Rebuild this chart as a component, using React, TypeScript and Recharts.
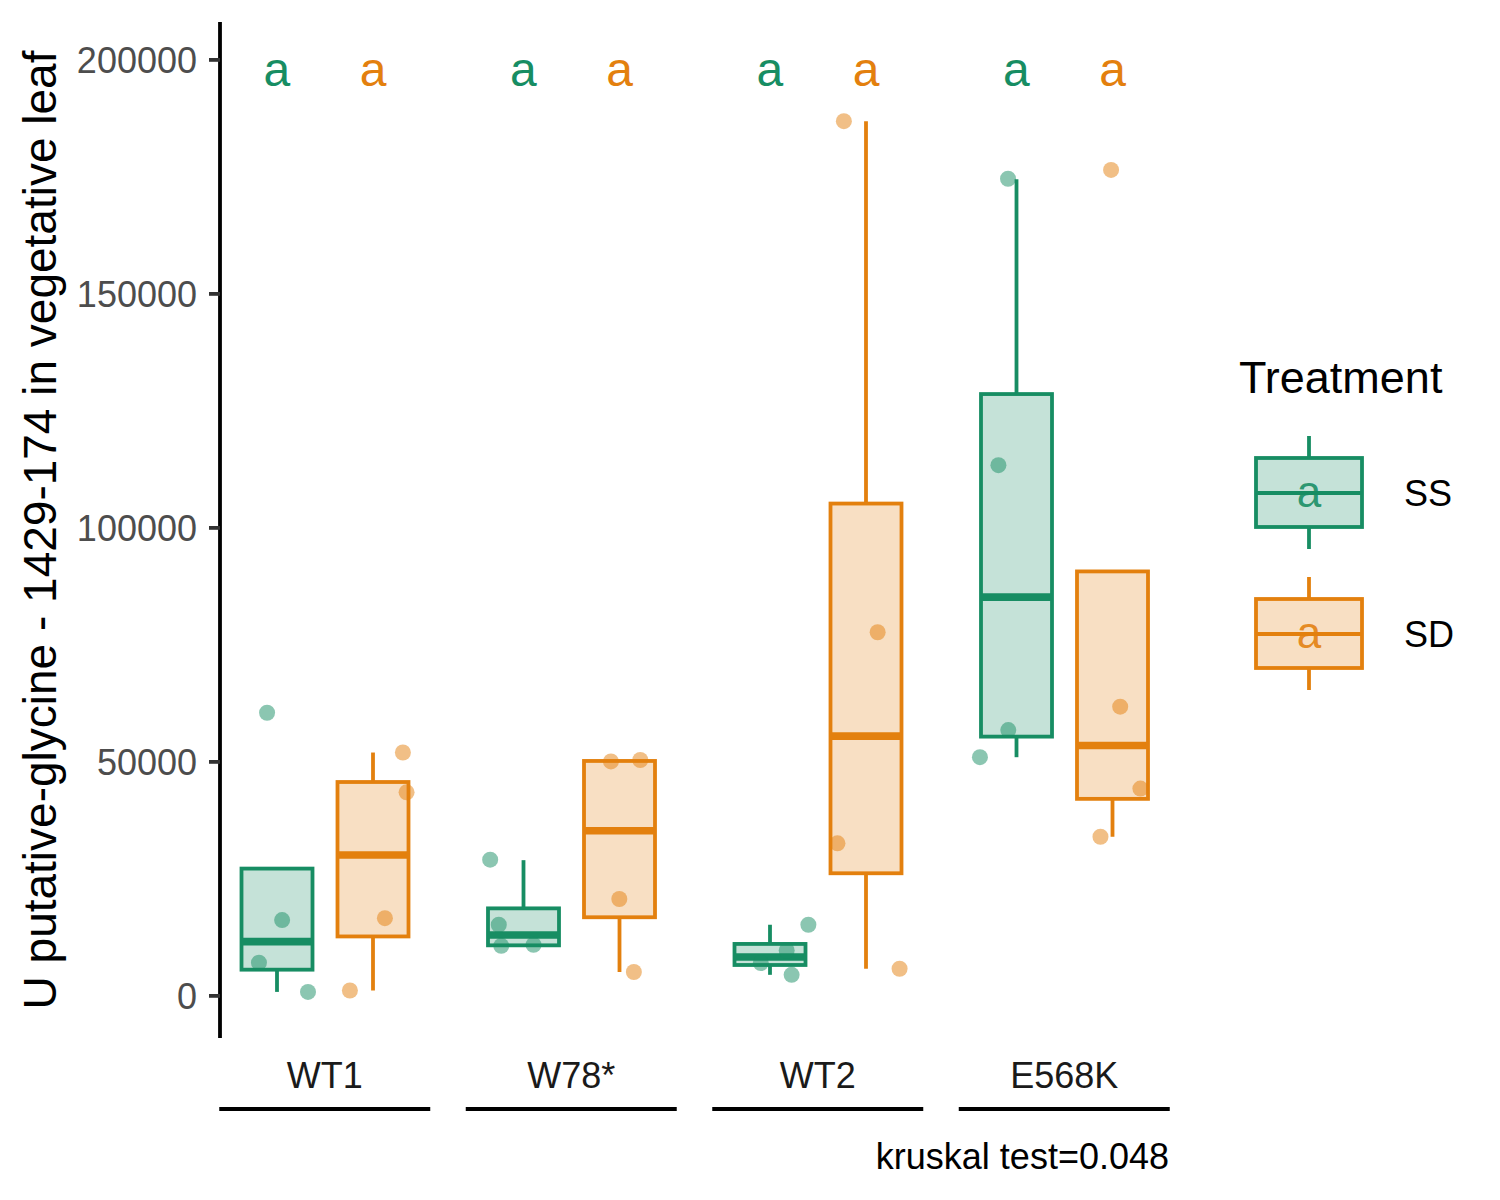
import { ComposedChart, Bar, Scatter, XAxis, YAxis, Legend } from 'recharts'

const FONT = '"Liberation Sans", Arial, Helvetica, sans-serif'

const genotypes = ['WT1', 'W78*', 'WT2', 'E568K']
const treatments = ['SS', 'SD']
const colors: Record<string, string> = { SS: '#178D63', SD: '#E3800E' }

// boxplot stats: lower whisker, Q1, median, Q3, upper whisker
const ssLow = [850, 10700, 4500, 51000]
const ssQ1 = [5600, 10800, 6600, 55400]
const ssMedian = [11600, 13000, 8300, 85200]
const ssQ3 = [27200, 18700, 11100, 128600]
const ssHigh = [16200, 29000, 15200, 174500]

const sdLow = [1150, 5100, 5800, 34000]
const sdQ1 = [12700, 16800, 26200, 42100]
const sdMedian = [30100, 35300, 55500, 53500]
const sdQ3 = [45700, 50200, 105200, 90700]
const sdHigh = [52000, 50400, 186900, 62200]

// jittered raw points, value + horizontal offset from the genotype centre (category units)
const ssPoints = [
  [60500, 16200, 7100, 850],
  [29100, 15200, 10700, 10900],
  [15200, 4500, 7000, 9700],
  [174600, 113400, 56800, 51000],
]
const ssJitter = [
  [-0.235, -0.174, -0.268, -0.069],
  [-0.33, -0.295, -0.285, -0.154],
  [-0.039, -0.107, -0.232, -0.127],
  [-0.229, -0.268, -0.228, -0.343],
]
const sdPoints = [
  [52000, 43500, 16600, 1150],
  [50100, 50400, 20700, 5100],
  [186900, 77700, 32600, 5800],
  [176500, 61800, 44300, 34000],
]
const sdJitter = [
  [0.316, 0.331, 0.243, 0.101],
  [0.16, 0.279, 0.194, 0.253],
  [0.105, 0.242, 0.079, 0.331],
  [0.189, 0.226, 0.308, 0.146],
]

// compact letter display above each box
const ssLetters = ['a', 'a', 'a', 'a']
const sdLetters = ['a', 'a', 'a', 'a']
const letterY = 198000
const dodge = 0.195

const yTicks = [0, 50000, 100000, 150000, 200000]
const yTitle = 'U putative-glycine - 1429-174 in vegetative leaf'
const testNote = 'kruskal test=0.048'

const boxRows = genotypes.map((g, i) => ({
  genotype: g,
  SS: { low: ssLow[i], q1: ssQ1[i], med: ssMedian[i], q3: ssQ3[i], high: ssHigh[i] },
  SD: { low: sdLow[i], q1: sdQ1[i], med: sdMedian[i], q3: sdQ3[i], high: sdHigh[i] },
}))

const pointRows = (vals: number[][], jit: number[][]) =>
  vals.flatMap((row, i) => row.map((v, j) => ({ x: i + 1 + jit[i][j], y: v })))

const ssScatter = pointRows(ssPoints, ssJitter)
const sdScatter = pointRows(sdPoints, sdJitter)
const letterRows = genotypes.flatMap((g, i) => [
  { x: i + 1 - dodge, y: letterY, label: ssLetters[i], t: 'SS' },
  { x: i + 1 + dodge, y: letterY, label: sdLetters[i], t: 'SD' },
])

const rangeOf = (s: any) => (s ? [Math.min(s.low, s.q1), Math.max(s.high, s.q3)] : null)

const BoxShape = (props: any) => {
  const { x, y, width, height, payload, treatment } = props
  const s = payload && payload[treatment]
  if (!s) return null
  const [lo, hi] = rangeOf(s) as number[]
  const py = (v: number) => y + ((hi - v) / (hi - lo)) * height
  const c = colors[treatment]
  const cx = x + width / 2
  return (
    <g>
      {s.high > s.q3 && <line x1={cx} x2={cx} y1={py(s.high)} y2={py(s.q3)} stroke={c} strokeWidth={3.8} />}
      {s.low < s.q1 && <line x1={cx} x2={cx} y1={py(s.q1)} y2={py(s.low)} stroke={c} strokeWidth={3.8} />}
      <rect
        x={x}
        y={py(s.q3)}
        width={width}
        height={py(s.q1) - py(s.q3)}
        fill={c}
        fillOpacity={0.25}
        stroke={c}
        strokeWidth={3.8}
      />
      <line x1={x} x2={x + width} y1={py(s.med)} y2={py(s.med)} stroke={c} strokeWidth={7.6} />
    </g>
  )
}

const dot = (color: string) => (p: any) =>
  <circle cx={p.cx} cy={p.cy} r={8} fill={color} fillOpacity={0.5} />

const LetterShape = (p: any) => (
  <text x={p.cx} y={p.cy + 17} textAnchor="middle" fontSize={48} fontFamily={FONT} fill={colors[p.payload.t]}>
    {p.payload.label}
  </text>
)

const GenotypeTick = (props: any) => {
  const { x, y, payload } = props
  return (
    <g>
      <text x={x} y={y + 50} textAnchor="middle" fontSize={36} fontFamily={FONT} fill="#1A1A1A">
        {payload.value}
      </text>
      <line x1={x - 105.5} x2={x + 105.5} y1={y + 71} y2={y + 71} stroke="#000" strokeWidth={4} />
    </g>
  )
}

const YTitle = (props: any) => {
  const vb = props.viewBox
  const cx = vb.x + 56
  const cy = vb.y + vb.height / 2
  return (
    <text
      x={cx}
      y={cy}
      transform={`rotate(-90 ${cx} ${cy})`}
      textAnchor="middle"
      fontSize={46}
      fontFamily={FONT}
      fill="#000"
    >
      {yTitle}
    </text>
  )
}

const TestNote = (props: any) => {
  const vb = props.viewBox
  return (
    <text x={vb.x + vb.width} y={vb.y + 131} textAnchor="end" fontSize={36} fontFamily={FONT} fill="#000">
      {testNote}
    </text>
  )
}

const TreatmentLegend = () => (
  <svg width={260} height={380} style={{ display: 'block', fontFamily: FONT }}>
    <text x={9} y={53} fontSize={45} fill="#000">Treatment</text>
    {treatments.map((t, i) => {
      const top = 96 + i * 141
      const c = colors[t]
      return (
        <g key={t}>
          <line x1={79} x2={79} y1={top} y2={top + 113} stroke={c} strokeWidth={3.8} />
          <rect x={26} y={top + 22} width={106} height={69} fill="#fff" />
          <rect x={26} y={top + 22} width={106} height={69} fill={c} fillOpacity={0.25} stroke={c} strokeWidth={3.8} />
          <line x1={26} x2={132} y1={top + 57} y2={top + 57} stroke={c} strokeWidth={3.8} />
          <text x={79} y={top + 71} textAnchor="middle" fontSize={44} fill={c} fillOpacity={0.9}>a</text>
          <text x={174} y={top + 70} fontSize={36} fill="#000">{t}</text>
        </g>
      )
    })}
  </svg>
)

export default function App() {
  return (
    <div style={{ position: 'absolute', left: 0, top: 0, width: 1500, height: 1200, background: '#fff' }}>
      <ComposedChart
        width={1500}
        height={1200}
        data={boxRows}
        margin={{ top: 22, right: 331, bottom: 0, left: 0 }}
        barGap={25}
        style={{ fontFamily: FONT }}
      >
        <XAxis
          xAxisId="cat"
          dataKey="genotype"
          type="category"
          padding={{ left: -18.5, right: -18.5 }}
          height={162}
          axisLine={false}
          tickLine={false}
          tickSize={0}
          tickMargin={0}
          interval={0}
          tick={<GenotypeTick />}
          label={<TestNote />}
        />
        <XAxis xAxisId="num" type="number" dataKey="x" domain={[0.574, 4.424]} hide allowDataOverflow />
        <YAxis
          domain={[-9000, 208100]}
          ticks={yTicks}
          allowDataOverflow
          width={220}
          tick={{ fill: '#4D4D4D', fontSize: 36, fontFamily: FONT }}
          tickLine={{ stroke: '#333', strokeWidth: 3.8 }}
          tickSize={11}
          tickMargin={12}
          axisLine={{ stroke: '#000', strokeWidth: 3.8 }}
          label={<YTitle />}
        />
        <Scatter xAxisId="num" data={ssScatter} dataKey="y" shape={dot(colors.SS)} isAnimationActive={false} />
        <Scatter xAxisId="num" data={sdScatter} dataKey="y" shape={dot(colors.SD)} isAnimationActive={false} />
        <Bar
          xAxisId="cat"
          dataKey={(d: any) => rangeOf(d && d.SS)}
          barSize={71}
          shape={(p: any) => <BoxShape {...p} treatment="SS" />}
          isAnimationActive={false}
        />
        <Bar
          xAxisId="cat"
          dataKey={(d: any) => rangeOf(d && d.SD)}
          barSize={71}
          shape={(p: any) => <BoxShape {...p} treatment="SD" />}
          isAnimationActive={false}
        />
        <Scatter xAxisId="num" data={letterRows} dataKey="y" shape={LetterShape} isAnimationActive={false} />
        <Legend
          layout="vertical"
          align="center"
          verticalAlign="middle"
          wrapperStyle={{ left: 1230, top: 340, width: 260, height: 380 }}
          content={() => <TreatmentLegend />}
        />
      </ComposedChart>
    </div>
  )
}
